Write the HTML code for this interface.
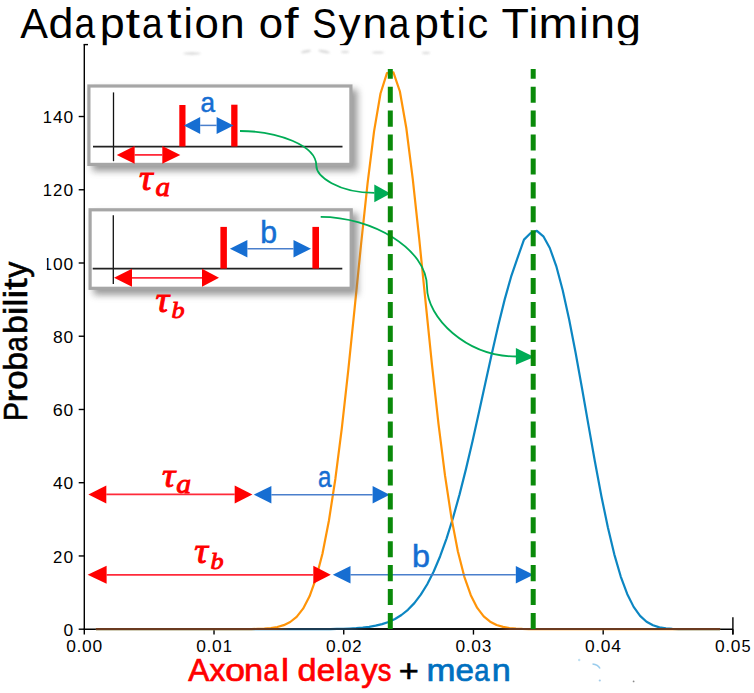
<!DOCTYPE html>
<html><head><meta charset="utf-8"><title>Adaptation of Synaptic Timing</title>
<style>
html,body{margin:0;padding:0;background:#fff;overflow:hidden;}
svg{display:block;}
svg{font-family:"Liberation Sans",sans-serif;}
</style></head>
<body>
<svg width="754" height="693" viewBox="0 0 754 693">
<rect width="754" height="693" fill="#fff"/>
<defs><filter id="blur" x="-20%" y="-30%" width="140%" height="170%"><feGaussianBlur stdDeviation="3.5"/></filter></defs>
<g fill="#000"><text x="20.22" y="38.40" font-size="42.00" textLength="27.69" lengthAdjust="spacingAndGlyphs">A</text><text x="48.54" y="38.40" font-size="42.00" textLength="24.90" lengthAdjust="spacingAndGlyphs">d</text><text x="74.50" y="38.40" font-size="42.00" textLength="20.60" lengthAdjust="spacingAndGlyphs">a</text><text x="99.66" y="38.40" font-size="42.00" textLength="24.95" lengthAdjust="spacingAndGlyphs">p</text><text x="125.61" y="38.40" font-size="42.00" textLength="14.59" lengthAdjust="spacingAndGlyphs">t</text><text x="142.05" y="38.40" font-size="42.00" textLength="20.60" lengthAdjust="spacingAndGlyphs">a</text><text x="167.01" y="38.40" font-size="42.00" textLength="14.59" lengthAdjust="spacingAndGlyphs">t</text><text x="183.59" y="38.40" font-size="42.00" textLength="9.36" lengthAdjust="spacingAndGlyphs">i</text><text x="194.41" y="38.40" font-size="42.00" textLength="24.37" lengthAdjust="spacingAndGlyphs">o</text><text x="220.01" y="38.40" font-size="42.00" textLength="24.69" lengthAdjust="spacingAndGlyphs">n</text><text x="258.83" y="38.40" font-size="42.00" textLength="24.37" lengthAdjust="spacingAndGlyphs">o</text><text x="284.03" y="38.40" font-size="42.00" textLength="14.59" lengthAdjust="spacingAndGlyphs">f</text><text x="312.24" y="38.40" font-size="42.00" textLength="24.52" lengthAdjust="spacingAndGlyphs">S</text><text x="338.46" y="38.40" font-size="42.00" textLength="22.14" lengthAdjust="spacingAndGlyphs">y</text><text x="362.56" y="38.40" font-size="42.00" textLength="24.69" lengthAdjust="spacingAndGlyphs">n</text><text x="388.77" y="38.40" font-size="42.00" textLength="20.60" lengthAdjust="spacingAndGlyphs">a</text><text x="413.93" y="38.40" font-size="42.00" textLength="24.95" lengthAdjust="spacingAndGlyphs">p</text><text x="439.88" y="38.40" font-size="42.00" textLength="14.59" lengthAdjust="spacingAndGlyphs">t</text><text x="456.46" y="38.40" font-size="42.00" textLength="9.36" lengthAdjust="spacingAndGlyphs">i</text><text x="467.39" y="38.40" font-size="42.00" textLength="20.65" lengthAdjust="spacingAndGlyphs">c</text><text x="501.49" y="38.40" font-size="42.00" textLength="27.43" lengthAdjust="spacingAndGlyphs">T</text><text x="528.82" y="38.40" font-size="42.00" textLength="9.36" lengthAdjust="spacingAndGlyphs">i</text><text x="538.60" y="38.40" font-size="42.00" textLength="39.07" lengthAdjust="spacingAndGlyphs">m</text><text x="579.13" y="38.40" font-size="42.00" textLength="9.36" lengthAdjust="spacingAndGlyphs">i</text><text x="590.35" y="38.40" font-size="42.00" textLength="24.69" lengthAdjust="spacingAndGlyphs">n</text><text x="616.03" y="38.40" font-size="42.00" textLength="24.90" lengthAdjust="spacingAndGlyphs">g</text></g>
<rect x="88" y="45.2" width="666" height="8" fill="#fff"/>
<g stroke="#000" stroke-width="1.4" fill="none">
<line x1="84.3" y1="44.6" x2="84.3" y2="629.9"/>
<line x1="83.6" y1="629.2" x2="732.9" y2="629.2"/>
<line x1="83.6" y1="44.6" x2="88" y2="44.6"/>
<line x1="732.9" y1="617.2" x2="732.9" y2="634.6"/>
<line x1="78.7" y1="629.20" x2="84.3" y2="629.20"/>
<line x1="78.7" y1="555.96" x2="84.3" y2="555.96"/>
<line x1="78.7" y1="482.72" x2="84.3" y2="482.72"/>
<line x1="78.7" y1="409.48" x2="84.3" y2="409.48"/>
<line x1="78.7" y1="336.24" x2="84.3" y2="336.24"/>
<line x1="78.7" y1="263.00" x2="84.3" y2="263.00"/>
<line x1="78.7" y1="189.76" x2="84.3" y2="189.76"/>
<line x1="78.7" y1="116.52" x2="84.3" y2="116.52"/>
<line x1="84.30" y1="629.2" x2="84.30" y2="634.6"/>
<line x1="214.02" y1="629.2" x2="214.02" y2="634.6"/>
<line x1="343.74" y1="629.2" x2="343.74" y2="634.6"/>
<line x1="473.46" y1="629.2" x2="473.46" y2="634.6"/>
<line x1="603.18" y1="629.2" x2="603.18" y2="634.6"/>
<line x1="732.90" y1="629.2" x2="732.90" y2="634.6"/>
</g>
<g fill="#000"><text x="63.51" y="635.80" font-size="16.80" textLength="9.68" lengthAdjust="spacingAndGlyphs">0</text><text x="52.96" y="562.56" font-size="16.80" textLength="9.32" lengthAdjust="spacingAndGlyphs">2</text><text x="63.51" y="562.56" font-size="16.80" textLength="9.68" lengthAdjust="spacingAndGlyphs">0</text><text x="53.01" y="489.32" font-size="16.80" textLength="9.67" lengthAdjust="spacingAndGlyphs">4</text><text x="63.51" y="489.32" font-size="16.80" textLength="9.68" lengthAdjust="spacingAndGlyphs">0</text><text x="52.83" y="416.08" font-size="16.80" textLength="10.01" lengthAdjust="spacingAndGlyphs">6</text><text x="63.51" y="416.08" font-size="16.80" textLength="9.68" lengthAdjust="spacingAndGlyphs">0</text><text x="52.96" y="342.84" font-size="16.80" textLength="9.76" lengthAdjust="spacingAndGlyphs">8</text><text x="63.51" y="342.84" font-size="16.80" textLength="9.68" lengthAdjust="spacingAndGlyphs">0</text><text x="42.65" y="269.60" font-size="16.80" textLength="9.24" lengthAdjust="spacingAndGlyphs">1</text><text x="53.01" y="269.60" font-size="16.80" textLength="9.68" lengthAdjust="spacingAndGlyphs">0</text><text x="63.51" y="269.60" font-size="16.80" textLength="9.68" lengthAdjust="spacingAndGlyphs">0</text><text x="42.65" y="196.36" font-size="16.80" textLength="9.24" lengthAdjust="spacingAndGlyphs">1</text><text x="52.96" y="196.36" font-size="16.80" textLength="9.32" lengthAdjust="spacingAndGlyphs">2</text><text x="63.51" y="196.36" font-size="16.80" textLength="9.68" lengthAdjust="spacingAndGlyphs">0</text><text x="42.65" y="123.12" font-size="16.80" textLength="9.24" lengthAdjust="spacingAndGlyphs">1</text><text x="53.01" y="123.12" font-size="16.80" textLength="9.67" lengthAdjust="spacingAndGlyphs">4</text><text x="63.51" y="123.12" font-size="16.80" textLength="9.68" lengthAdjust="spacingAndGlyphs">0</text><text x="66.34" y="652.30" font-size="16.80" textLength="9.68" lengthAdjust="spacingAndGlyphs">0</text><text x="76.59" y="652.30" font-size="16.80" textLength="4.92" lengthAdjust="spacingAndGlyphs">.</text><text x="82.09" y="652.30" font-size="16.80" textLength="9.68" lengthAdjust="spacingAndGlyphs">0</text><text x="92.58" y="652.30" font-size="16.80" textLength="9.68" lengthAdjust="spacingAndGlyphs">0</text><text x="196.28" y="652.30" font-size="16.80" textLength="9.68" lengthAdjust="spacingAndGlyphs">0</text><text x="206.52" y="652.30" font-size="16.80" textLength="4.92" lengthAdjust="spacingAndGlyphs">.</text><text x="212.02" y="652.30" font-size="16.80" textLength="9.68" lengthAdjust="spacingAndGlyphs">0</text><text x="222.66" y="652.30" font-size="16.80" textLength="9.24" lengthAdjust="spacingAndGlyphs">1</text><text x="326.06" y="652.30" font-size="16.80" textLength="9.68" lengthAdjust="spacingAndGlyphs">0</text><text x="336.31" y="652.30" font-size="16.80" textLength="4.92" lengthAdjust="spacingAndGlyphs">.</text><text x="341.81" y="652.30" font-size="16.80" textLength="9.68" lengthAdjust="spacingAndGlyphs">0</text><text x="352.26" y="652.30" font-size="16.80" textLength="9.32" lengthAdjust="spacingAndGlyphs">2</text><text x="455.62" y="652.30" font-size="16.80" textLength="9.68" lengthAdjust="spacingAndGlyphs">0</text><text x="465.86" y="652.30" font-size="16.80" textLength="4.92" lengthAdjust="spacingAndGlyphs">.</text><text x="471.36" y="652.30" font-size="16.80" textLength="9.68" lengthAdjust="spacingAndGlyphs">0</text><text x="482.07" y="652.30" font-size="16.80" textLength="9.29" lengthAdjust="spacingAndGlyphs">3</text><text x="585.14" y="652.30" font-size="16.80" textLength="9.68" lengthAdjust="spacingAndGlyphs">0</text><text x="595.38" y="652.30" font-size="16.80" textLength="4.92" lengthAdjust="spacingAndGlyphs">.</text><text x="600.88" y="652.30" font-size="16.80" textLength="9.68" lengthAdjust="spacingAndGlyphs">0</text><text x="611.38" y="652.30" font-size="16.80" textLength="9.67" lengthAdjust="spacingAndGlyphs">4</text><text x="715.12" y="652.30" font-size="16.80" textLength="9.68" lengthAdjust="spacingAndGlyphs">0</text><text x="725.36" y="652.30" font-size="16.80" textLength="4.92" lengthAdjust="spacingAndGlyphs">.</text><text x="730.86" y="652.30" font-size="16.80" textLength="9.68" lengthAdjust="spacingAndGlyphs">0</text><text x="741.56" y="652.30" font-size="16.80" textLength="9.14" lengthAdjust="spacingAndGlyphs">5</text></g>
<rect x="30" y="250" width="16.8" height="30" fill="#fff"/>
<polyline points="95.90,629.20 98.30,629.20 104.75,629.20 111.20,629.20 117.65,629.20 124.10,629.20 130.55,629.20 137.00,629.20 143.45,629.20 149.90,629.20 156.35,629.20 162.80,629.20 169.25,629.20 175.70,629.20 182.15,629.20 188.60,629.20 195.05,629.20 201.50,629.20 207.95,629.20 214.40,629.20 220.85,629.20 227.30,629.20 233.75,629.20 240.20,629.20 246.65,629.20 253.10,629.20 259.55,629.20 266.00,629.20 272.45,629.20 278.90,629.20 285.35,629.20 291.80,629.19 298.25,629.19 304.70,629.18 311.15,629.16 317.60,629.14 324.05,629.10 330.50,629.03 336.95,628.93 343.40,628.77 349.85,628.52 356.30,628.15 362.75,627.61 369.20,626.82 375.65,625.69 382.10,624.10 388.55,621.92 395.00,618.95 401.45,614.99 407.90,609.80 414.35,603.13 420.80,594.69 427.25,584.22 433.70,571.46 440.15,556.21 446.60,538.32 453.05,517.76 459.50,494.62 465.95,469.12 472.40,441.66 478.85,412.81 485.30,383.28 491.75,353.93 498.20,325.71 504.65,299.63 511.10,276.70 517.55,257.83 524.00,239.60 530.45,233.30 536.90,230.90 543.35,236.30 549.80,248.00 556.25,266.03 562.70,290.16 569.15,319.44 575.60,352.68 582.05,388.50 588.50,425.39 594.95,461.77 601.40,496.18 607.85,527.34 614.30,554.32 620.75,576.56 627.20,593.98 633.65,606.88 640.10,615.87 646.55,621.75 653.00,625.32 659.45,627.33 665.90,628.37 672.35,628.86 678.80,629.08 685.25,629.16 691.70,629.19 698.15,629.20 704.60,629.20 711.05,629.20 717.50,629.20 720.10,629.20" fill="none" stroke="#0C86C2" stroke-width="2.2" stroke-linejoin="round"/>
<polyline points="95.90,629.20 96.70,629.20 103.15,629.20 109.60,629.20 116.05,629.20 122.50,629.20 128.95,629.20 135.40,629.20 141.85,629.20 148.30,629.20 154.75,629.20 161.20,629.20 167.65,629.20 174.10,629.20 180.55,629.20 187.00,629.20 193.45,629.20 199.90,629.20 206.35,629.20 212.80,629.20 219.25,629.20 225.70,629.20 232.15,629.19 238.60,629.17 245.05,629.14 251.50,629.07 257.95,628.92 264.40,628.63 270.85,628.06 277.30,627.01 283.75,625.16 290.20,622.00 296.65,616.82 303.10,608.66 309.55,596.33 316.00,578.47 322.45,553.67 328.90,520.74 335.35,478.96 341.80,428.46 348.25,370.48 354.70,307.57 361.15,243.51 367.60,183.07 374.05,131.43 380.50,93.48 386.95,73.05 393.40,72.29 399.85,91.27 406.30,128.01 412.75,178.77 419.20,238.72 425.65,302.68 432.10,365.84 438.55,424.30 445.00,475.42 451.45,517.88 457.90,551.47 464.35,576.85 470.80,595.19 477.25,607.88 483.70,616.31 490.15,621.69 496.60,624.97 503.05,626.91 509.50,628.00 515.95,628.59 522.40,628.91 528.85,629.06 535.30,629.14 541.75,629.17 548.20,629.19 554.65,629.20 561.10,629.20 567.55,629.20 574.00,629.20 580.45,629.20 586.90,629.20 593.35,629.20 599.80,629.20 606.25,629.20 612.70,629.20 619.15,629.20 625.60,629.20 632.05,629.20 638.50,629.20 644.95,629.20 651.40,629.20 657.85,629.20 664.30,629.20 670.75,629.20 677.20,629.20 683.65,629.20 690.10,629.20 696.55,629.20 703.00,629.20 709.45,629.20 715.90,629.20 720.10,629.20" fill="none" stroke="#FF9408" stroke-width="2.2" stroke-linejoin="round"/>
<defs><linearGradient id="bl" gradientUnits="userSpaceOnUse" x1="95.9" y1="0" x2="720.1" y2="0"><stop offset="0.2885" stop-color="#6a3a20"/><stop offset="0.3110" stop-color="#1c3b52"/><stop offset="0.4103" stop-color="#1c3b52"/><stop offset="0.4423" stop-color="#111"/><stop offset="0.6394" stop-color="#111"/><stop offset="0.6634" stop-color="#6a3a20"/></linearGradient></defs>
<line x1="95.9" y1="629.0" x2="720.1" y2="629.0" stroke="url(#bl)" stroke-width="2.1"/>
<rect x="92.3" y="89.4" width="265.2" height="81.6" fill="#707070" opacity="0.7" filter="url(#blur)"/>
<rect x="88.90" y="86.00" width="262.00" height="78.40" fill="#fff" stroke="#A6A6A6" stroke-width="3.2"/>
<line x1="113.5" y1="92.4" x2="113.5" y2="161.2" stroke="#111" stroke-width="1.3"/>
<line x1="93" y1="146.7" x2="342.5" y2="146.7" stroke="#222" stroke-width="1.7"/>
<rect x="179.3" y="105" width="6.2" height="41.5" fill="#FF0000"/>
<rect x="231.2" y="104.7" width="6.3" height="41.8" fill="#FF0000"/>
<line x1="134.6" y1="154.9" x2="162.3" y2="154.9" stroke="#FF2A3A" stroke-width="1.8"/>
<polygon points="116.8,154.9 134.6,146.1 134.6,163.7" fill="#FF0000"/>
<polygon points="180.3,154.9 162.3,146.1 162.3,163.7" fill="#FF0000"/>
<line x1="200.2" y1="125.4" x2="216.6" y2="125.4" stroke="#4A7FCC" stroke-width="1.5"/>
<polygon points="183.9,125.4 200.2,116.9 200.2,133.9" fill="#166ED2"/>
<polygon points="233.5,125.4 216.6,116.9 216.6,133.9" fill="#166ED2"/>
<rect x="93.5" y="213.2" width="264.3" height="81.7" fill="#707070" opacity="0.7" filter="url(#blur)"/>
<rect x="90.10" y="209.80" width="261.10" height="78.50" fill="#fff" stroke="#A6A6A6" stroke-width="3.2"/>
<line x1="113.3" y1="215.2" x2="113.3" y2="284.1" stroke="#111" stroke-width="1.3"/>
<line x1="92.7" y1="268.7" x2="342.3" y2="268.7" stroke="#222" stroke-width="1.7"/>
<rect x="220.4" y="226.9" width="6.5" height="41.7" fill="#FF0000"/>
<rect x="312.4" y="226.9" width="6.6" height="41.7" fill="#FF0000"/>
<line x1="132.0" y1="277.8" x2="202.0" y2="277.8" stroke="#FF2A3A" stroke-width="1.8"/>
<polygon points="114.0,277.8 132.0,268.8 132.0,286.8" fill="#FF0000"/>
<polygon points="219.0,277.8 202.0,268.8 202.0,286.8" fill="#FF0000"/>
<line x1="247.4" y1="248.7" x2="293.5" y2="248.7" stroke="#4A7FCC" stroke-width="1.5"/>
<polygon points="229.9,248.7 247.4,240.0 247.4,257.4" fill="#166ED2"/>
<polygon points="311.0,248.7 293.5,240.0 293.5,257.4" fill="#166ED2"/>
<line x1="106.3" y1="494.4" x2="234.7" y2="494.4" stroke="#FF2A3A" stroke-width="1.8"/>
<polygon points="88.4,494.4 106.3,485.4 106.3,503.4" fill="#FF0000"/>
<polygon points="252.4,494.4 234.7,485.4 234.7,503.4" fill="#FF0000"/>
<line x1="271.4" y1="494.7" x2="372.6" y2="494.7" stroke="#4A7FCC" stroke-width="1.5"/>
<polygon points="253.8,494.7 271.4,486.0 271.4,503.4" fill="#166ED2"/>
<polygon points="389.6,494.7 372.6,486.0 372.6,503.4" fill="#166ED2"/>
<line x1="106.6" y1="574.8" x2="313.3" y2="574.8" stroke="#FF2A3A" stroke-width="1.8"/>
<polygon points="87.6,574.8 106.6,565.8 106.6,583.8" fill="#FF0000"/>
<polygon points="330.8,574.8 313.3,565.8 313.3,583.8" fill="#FF0000"/>
<line x1="350.5" y1="574.7" x2="515.8" y2="574.7" stroke="#4A7FCC" stroke-width="1.5"/>
<polygon points="332.8,574.7 350.5,566.0 350.5,583.4" fill="#166ED2"/>
<polygon points="533.5,574.7 515.8,566.0 515.8,583.4" fill="#166ED2"/>
<path d="M240,131 C277.9,131 316.3,145.6 316.3,165.5 C316.3,176.3 337.8,192.8 374.5,192.8" fill="none" stroke="#00AC56" stroke-width="1.8"/>
<polygon points="374.3,184.5 390.5,193.5 374.3,202.2" fill="#00AC56"/>
<path d="M320.7,216.8 C371.6,216.8 427,248.5 427,287 C427,317.5 465.9,356.5 517,356.5" fill="none" stroke="#00AC56" stroke-width="1.8"/>
<polygon points="515.9,348 534.2,357.1 515.9,364.7" fill="#00AC56"/>
<line x1="390.3" y1="629" x2="390.3" y2="69.1" stroke="#0A8A0A" stroke-width="5" stroke-dasharray="16.1 7.82"/>
<line x1="533.2" y1="629" x2="533.2" y2="69.1" stroke="#0A8A0A" stroke-width="5" stroke-dasharray="16.1 7.82"/>
<text x="200.61" y="111.55" font-size="28.50" textLength="14.55" lengthAdjust="spacingAndGlyphs" fill="#166ED2" stroke="#166ED2" stroke-width="0.5">a</text>
<text x="260.32" y="243.35" font-size="31.20" textLength="16.85" lengthAdjust="spacingAndGlyphs" fill="#166ED2" stroke="#166ED2" stroke-width="0.5">b</text>
<text x="317.90" y="486.85" font-size="29.50" textLength="13.44" lengthAdjust="spacingAndGlyphs" fill="#166ED2" stroke="#166ED2" stroke-width="0.5">a</text>
<text x="412.09" y="566.55" font-size="31.10" textLength="18.00" lengthAdjust="spacingAndGlyphs" fill="#166ED2" stroke="#166ED2" stroke-width="0.5">b</text>
<g font-family="Liberation Serif" font-style="italic" fill="#FF0000" stroke="#FF0000" stroke-width="0.9">
<text x="138.96" y="189.60" font-size="35.5" textLength="13.73" lengthAdjust="spacingAndGlyphs">&#964;</text>
<text x="155.43" y="196.30" font-size="26.5" textLength="14.58" lengthAdjust="spacingAndGlyphs">a</text>
<text x="155.56" y="311.90" font-size="35.5" textLength="13.73" lengthAdjust="spacingAndGlyphs">&#964;</text>
<text x="171.63" y="318.30" font-size="24.0" textLength="13.08" lengthAdjust="spacingAndGlyphs">b</text>
<text x="161.98" y="486.60" font-size="34.5" textLength="13.34" lengthAdjust="spacingAndGlyphs">&#964;</text>
<text x="176.21" y="492.50" font-size="27.0" textLength="14.85" lengthAdjust="spacingAndGlyphs">a</text>
<text x="194.36" y="563.20" font-size="35.5" textLength="13.73" lengthAdjust="spacingAndGlyphs">&#964;</text>
<text x="210.63" y="569.00" font-size="24.0" textLength="13.08" lengthAdjust="spacingAndGlyphs">b</text>
</g>
<g transform="translate(27.3,418.6) rotate(-90)" fill="#000" stroke="#000" stroke-width="0.55"><text x="-2.32" y="0.00" font-size="32.70" textLength="18.90" lengthAdjust="spacingAndGlyphs">P</text><text x="16.01" y="0.00" font-size="32.70" textLength="12.88" lengthAdjust="spacingAndGlyphs">r</text><text x="28.83" y="0.00" font-size="32.70" textLength="19.53" lengthAdjust="spacingAndGlyphs">o</text><text x="47.95" y="0.00" font-size="32.70" textLength="18.94" lengthAdjust="spacingAndGlyphs">b</text><text x="66.84" y="0.00" font-size="32.70" textLength="15.46" lengthAdjust="spacingAndGlyphs">a</text><text x="84.61" y="0.00" font-size="32.70" textLength="18.94" lengthAdjust="spacingAndGlyphs">b</text><text x="103.07" y="0.00" font-size="32.70" textLength="9.08" lengthAdjust="spacingAndGlyphs">i</text><text x="112.07" y="0.00" font-size="32.70" textLength="7.92" lengthAdjust="spacingAndGlyphs">l</text><text x="119.83" y="0.00" font-size="32.70" textLength="9.08" lengthAdjust="spacingAndGlyphs">i</text><text x="128.83" y="0.00" font-size="32.70" textLength="11.36" lengthAdjust="spacingAndGlyphs">t</text><text x="140.93" y="0.00" font-size="32.70" textLength="16.19" lengthAdjust="spacingAndGlyphs">y</text></g>
<g fill="#FF0000" stroke="#FF0000" stroke-width="0.7"><text x="188.24" y="681.00" font-size="32.10" textLength="21.14" lengthAdjust="spacingAndGlyphs">A</text><text x="209.51" y="681.00" font-size="32.10" textLength="15.82" lengthAdjust="spacingAndGlyphs">x</text><text x="225.26" y="681.00" font-size="32.10" textLength="19.69" lengthAdjust="spacingAndGlyphs">o</text><text x="244.04" y="681.00" font-size="32.10" textLength="19.07" lengthAdjust="spacingAndGlyphs">n</text><text x="263.41" y="681.00" font-size="32.10" textLength="15.17" lengthAdjust="spacingAndGlyphs">a</text><text x="281.00" y="681.00" font-size="32.10" textLength="7.99" lengthAdjust="spacingAndGlyphs">l</text><text x="297.41" y="681.00" font-size="32.10" textLength="19.06" lengthAdjust="spacingAndGlyphs">d</text><text x="316.83" y="681.00" font-size="32.10" textLength="18.46" lengthAdjust="spacingAndGlyphs">e</text><text x="335.41" y="681.00" font-size="32.10" textLength="7.99" lengthAdjust="spacingAndGlyphs">l</text><text x="343.89" y="681.00" font-size="32.10" textLength="15.17" lengthAdjust="spacingAndGlyphs">a</text><text x="361.37" y="681.00" font-size="32.10" textLength="16.32" lengthAdjust="spacingAndGlyphs">y</text><text x="377.72" y="681.00" font-size="32.10" textLength="13.64" lengthAdjust="spacingAndGlyphs">s</text></g>
<g fill="#000" stroke="#000" stroke-width="0.6" transform="translate(0,1.3)"><text x="398.72" y="681.00" font-size="32.10" textLength="20.03" lengthAdjust="spacingAndGlyphs">+</text></g>
<g fill="#0070C0" stroke="#0070C0" stroke-width="0.7"><text x="426.59" y="681.00" font-size="32.10" textLength="28.99" lengthAdjust="spacingAndGlyphs">m</text><text x="455.60" y="681.00" font-size="32.10" textLength="18.46" lengthAdjust="spacingAndGlyphs">e</text><text x="474.22" y="681.00" font-size="32.10" textLength="15.17" lengthAdjust="spacingAndGlyphs">a</text><text x="491.81" y="681.00" font-size="32.10" textLength="19.07" lengthAdjust="spacingAndGlyphs">n</text></g>
<g filter="url(#sm)" fill="#cfcfcf" opacity="0.8"><ellipse cx="192" cy="53.5" rx="9" ry="1.2"/><ellipse cx="306" cy="51.5" rx="5" ry="1.3" transform="rotate(-12 306 51.5)"/><ellipse cx="324" cy="51.5" rx="6" ry="1.3" transform="rotate(12 324 51.5)"/><ellipse cx="345" cy="52" rx="4" ry="1"/><ellipse cx="378" cy="52.5" rx="6" ry="1"/><ellipse cx="426" cy="53" rx="4" ry="1"/></g>
<defs><filter id="sm" x="-50%" y="-200%" width="200%" height="500%"><feGaussianBlur stdDeviation="0.8"/></filter></defs>
<path d="M592.5,664 Q598,664.5 600,668.5" fill="none" stroke="#7fbfe8" stroke-width="1.6" opacity="0.8"/>
<circle cx="579.2" cy="660" r="1.2" fill="#bfe0f2"/><circle cx="599.8" cy="680.5" r="1.1" fill="#a6cdea"/><circle cx="633.6" cy="681.4" r="0.9" fill="#8a8a8a"/>
</svg>
</body></html>
